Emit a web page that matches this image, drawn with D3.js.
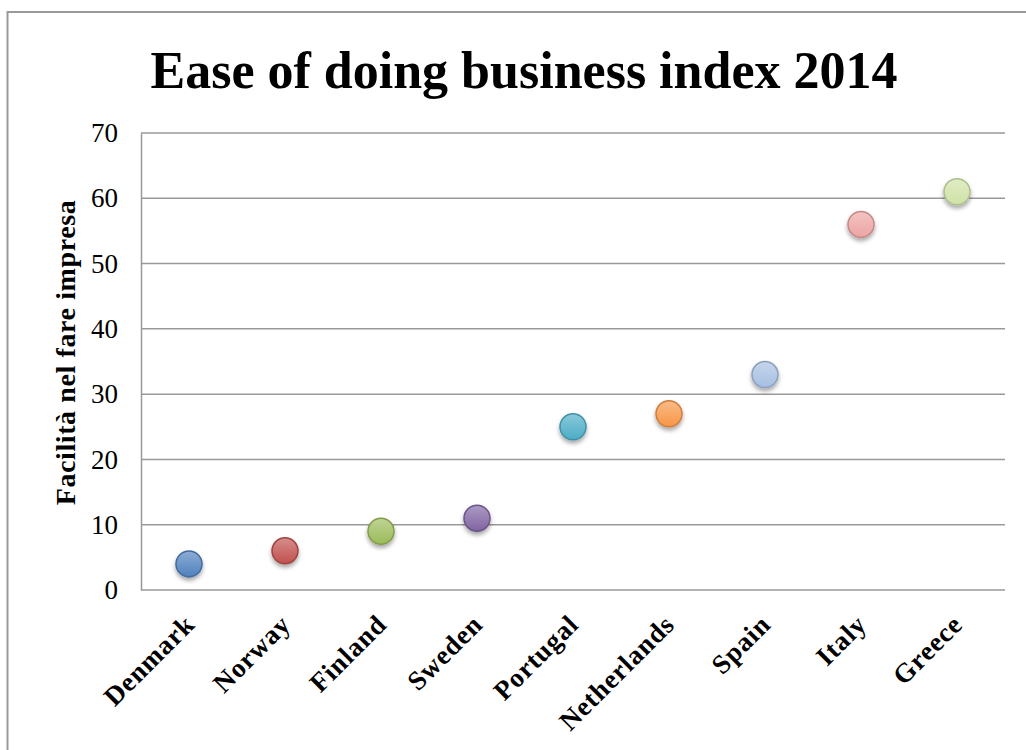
<!DOCTYPE html>
<html>
<head>
<meta charset="utf-8">
<script src="https://cdn.jsdelivr.net/npm/d3@7/dist/d3.min.js"></script>
<style>
  html, body { margin: 0; padding: 0; background: #fff; }
  svg { display: block; }
</style>
</head>
<body>
<script>
// Ease of doing business ranking, 2014
const countries = ["Denmark", "Norway", "Finland", "Sweden", "Portugal", "Netherlands", "Spain", "Italy", "Greece"];
const ranks = [4, 6, 9, 11, 25, 27, 33, 56, 61];
const fills = ["#4f81bd", "#c0504d", "#9bbb59", "#8064a2", "#4bacc6", "#f79646", "#a7bfe2", "#eca4a2", "#cfe2a6"];
const yTicks = [0, 10, 20, 30, 40, 50, 60, 70];

const W = 1026, H = 750;
const plot = { left: 141, right: 1005, top: 133, bottom: 590 };
const serif = "'Liberation Serif', 'DejaVu Serif', serif";

const svg = d3.select("body").append("svg").attr("width", W).attr("height", H);

// outer frame
svg.append("rect")
  .attr("x", 7.5).attr("y", 12).attr("width", W + 20).attr("height", H + 20)
  .attr("fill", "#fff").attr("stroke", "#999").attr("stroke-width", 2);

const x = d3.scaleBand().domain(countries).range([plot.left, plot.right]).padding(0);
const y = d3.scaleLinear().domain([0, 70]).range([plot.bottom, plot.top]);

const defs = svg.append("defs");
const shadow = defs.append("filter").attr("id", "shadow")
  .attr("x", "-50%").attr("y", "-50%").attr("width", "200%").attr("height", "220%");
shadow.append("feDropShadow").attr("dx", 0).attr("dy", 3).attr("stdDeviation", 2.2)
  .attr("flood-color", "#000").attr("flood-opacity", 0.35);

fills.forEach((c, i) => {
  const g = defs.append("linearGradient").attr("id", "grad" + i)
    .attr("x1", 0).attr("y1", 0).attr("x2", 0).attr("y2", 1);
  g.append("stop").attr("offset", "0%").attr("stop-color", d3.interpolateRgb(c, "#fff")(0.35));
  g.append("stop").attr("offset", "100%").attr("stop-color", c);
});

// gridlines
svg.append("g")
  .selectAll("line").data(yTicks).join("line")
  .attr("x1", plot.left).attr("x2", plot.right)
  .attr("y1", d => y(d)).attr("y2", d => y(d))
  .attr("stroke", "#999").attr("stroke-width", 1.5);

// left axis
const yAxis = svg.append("g")
  .attr("transform", `translate(${plot.left},0)`)
  .call(d3.axisLeft(y).tickValues(yTicks).tickSize(0).tickPadding(23));
yAxis.select(".domain").attr("stroke", "#999").attr("stroke-width", 1.5);
yAxis.selectAll("text")
  .attr("font-family", serif).attr("font-size", 27).attr("fill", "#000");

svg.append("text")
  .attr("transform", `translate(75,${(plot.top + plot.bottom) / 2 - 9}) rotate(-90)`)
  .attr("text-anchor", "middle")
  .attr("font-family", serif).attr("font-weight", "bold").attr("font-size", 28)
  .attr("letter-spacing", 0.6)
  .text("Facilità nel fare impresa");

// category labels
const xAxis = svg.append("g")
  .attr("transform", `translate(0,${plot.bottom})`)
  .call(d3.axisBottom(x).tickSize(0));
xAxis.select(".domain").remove();
xAxis.selectAll("text")
  .attr("font-family", serif).attr("font-weight", "bold").attr("font-size", 27).attr("fill", "#000")
  .attr("letter-spacing", 0.8)
  .attr("text-anchor", "end")
  .attr("dy", 0)
  .attr("transform", "translate(5,34) rotate(-45)");

// points
svg.append("g")
  .selectAll("circle").data(countries).join("circle")
  .attr("cx", d => x(d) + x.bandwidth() / 2)
  .attr("cy", (d, i) => y(ranks[i]))
  .attr("r", 13)
  .attr("fill", (d, i) => `url(#grad${i})`)
  .attr("stroke", (d, i) => d3.color(fills[i]).darker(0.5))
  .attr("stroke-width", 1.5)
  .attr("filter", "url(#shadow)");

// title
svg.append("text")
  .attr("x", 524).attr("y", 88)
  .attr("text-anchor", "middle")
  .attr("font-family", serif).attr("font-weight", "bold").attr("font-size", 52)
  .text("Ease of doing business index 2014");
</script>
</body>
</html>
